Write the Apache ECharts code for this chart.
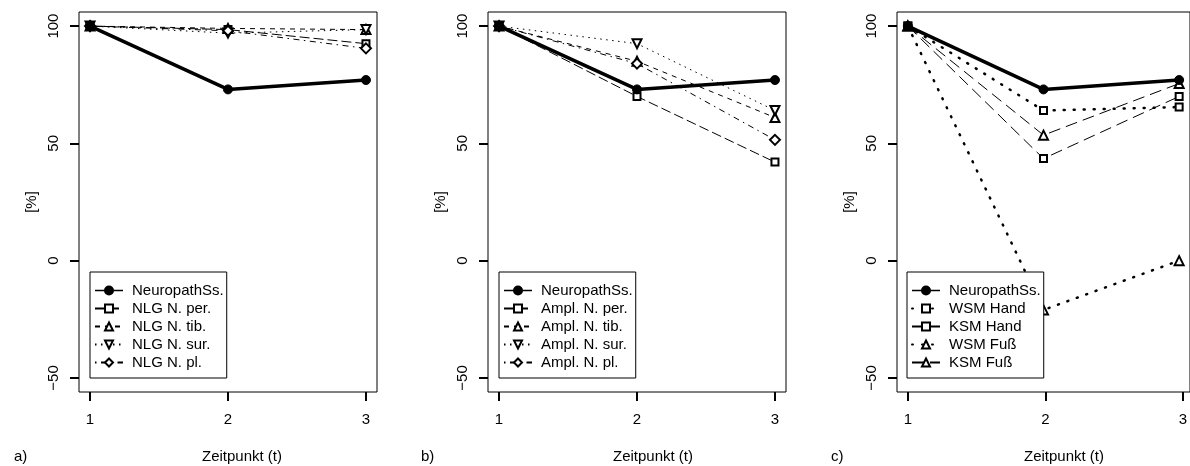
<!DOCTYPE html>
<html>
<head>
<meta charset="utf-8">
<script src="https://cdn.jsdelivr.net/npm/echarts@6/dist/echarts.min.js"></script>
<style>
html,body{margin:0;padding:0;background:#fff;}
#chart{width:1190px;height:466px;}
</style>
</head>
<body>
<div id="chart"></div>
<script>
// ---- data ----
const timepoints = [1, 2, 3];
const yTicks = [-50, 0, 50, 100];
const panelLetters = ['a)', 'b)', 'c)'];
const xTitle = 'Zeitpunkt (t)';
const yTitle = '[%]';

const neuropathSs = [100, 73, 77];

// panel a
const namesA = ['NeuropathSs.', 'NLG N. per.', 'NLG N. tib.', 'NLG N. sur.', 'NLG N. pl.'];
const nlgPer = [100, 98.5, 92.5];
const nlgTib = [100, 99, 98.5];
const nlgSur = [100, 97, 98.5];
const nlgPl  = [100, 98, 90.5];

// panel b
const namesB = ['NeuropathSs.', 'Ampl. N. per.', 'Ampl. N. tib.', 'Ampl. N. sur.', 'Ampl. N. pl.'];
const amplPer = [100, 70, 42];
const amplTib = [100, 85, 61];
const amplSur = [100, 92.5, 64];
const amplPl  = [100, 84, 51.5];

// panel c
const namesC = ['NeuropathSs.', 'WSM Hand', 'KSM Hand', 'WSM Fuß', 'KSM Fuß'];
const wsmHand = [100, 64, 65.5];
const ksmHand = [100, 43.5, 70];
const wsmFuss = [100, -21, 0];
const ksmFuss = [100, 53.5, 75.5];

// ---- styles ----
const FONT = '"Liberation Sans", Arial, Helvetica, sans-serif';
const BLACK = '#000';
const TICK = '#000';
const STY = {
  neuro:   {type: 'solid', width: 3.5, symbol: 'circle', size: 9, rot: 0},
  longdash:{type: [10, 4], width: 1, symbol: 'emptyRect', size: 7, rot: 0},
  dashed:  {type: [5, 5], width: 1, symbol: 'emptyTriangle', size: 9, rot: 0},
  dotted:  {type: [1.5, 4.5], width: 1, symbol: 'emptyTriangle', size: 9, rot: 180},
  dotdash: {type: [1.5, 4.5, 6, 4.5], width: 1, symbol: 'emptyDiamond', size: 10, rot: 0}
};

const X_MIN = 0.92, X_MAX = 3.08, Y_MIN = -56, Y_MAX = 106;
const panelLefts = [79, 488, 897];
const PW = 298, PT = 12, PH = 380;
const grids = panelLefts.map(l => ({left: l, top: PT, width: PW, height: PH}));

const pxX = PW / (X_MAX - X_MIN), pxY = PH / (Y_MAX - Y_MIN);
const offX = (1 - X_MIN) * pxX;
const offY = (Y_MAX - 100) * pxY;
const auxGrids = panelLefts.map(l => ({
  left: l + offX, top: PT + offY,
  width: 2 * pxX, height: 150 * pxY
}));
const offBottom = (-50 - Y_MIN) * pxY;

function mkSeries(name, values, gi, st, extra) {
  const s = {
    type: 'line', name: name, xAxisIndex: gi, yAxisIndex: gi,
    data: timepoints.map((t, i) => [t, values[i]]),
    symbol: st.symbol, symbolSize: st.size, symbolRotate: st.rot, showAllSymbol: true,
    color: BLACK,
    itemStyle: {color: BLACK, borderColor: BLACK, borderWidth: 1},
    lineStyle: {color: BLACK, width: st.width, type: st.type},
    emphasis: {disabled: true},
    z: st === STY.neuro ? 5 : 3,
    animation: false
  };
  if (extra) Object.assign(s.lineStyle, extra.lineStyle || {});
  return s;
}

const dotThick = {lineStyle: {cap: 'round'}};
const series = [
  mkSeries(namesA[0], neuropathSs, 0, STY.neuro),
  mkSeries(namesA[1], nlgPer, 0, STY.longdash),
  mkSeries(namesA[2], nlgTib, 0, STY.dashed),
  mkSeries(namesA[3], nlgSur, 0, STY.dotted),
  mkSeries(namesA[4], nlgPl, 0, STY.dotdash),
  mkSeries(namesB[0], neuropathSs, 1, STY.neuro),
  mkSeries(namesB[1], amplPer, 1, STY.longdash),
  mkSeries(namesB[2], amplTib, 1, STY.dashed),
  mkSeries(namesB[3], amplSur, 1, STY.dotted),
  mkSeries(namesB[4], amplPl, 1, STY.dotdash),
  mkSeries(namesC[0], neuropathSs, 2, STY.neuro),
  mkSeries(namesC[1], wsmHand, 2, {type: [1, 9], width: 2.5, symbol: 'emptyRect', size: 7, rot: 0}, dotThick),
  mkSeries(namesC[2], ksmHand, 2, {type: [12, 6], width: 1, symbol: 'emptyRect', size: 7, rot: 0}),
  mkSeries(namesC[3], wsmFuss, 2, {type: [1, 9], width: 2.5, symbol: 'emptyTriangle', size: 9, rot: 0}, dotThick),
  mkSeries(namesC[4], ksmFuss, 2, {type: [12, 6], width: 1, symbol: 'emptyTriangle', size: 9, rot: 0})
];

const xAxes = grids.map((g, i) => ({
  type: 'value', gridIndex: i, min: X_MIN, max: X_MAX,
  axisLine: {show: false, onZero: false}, axisTick: {show: false}, axisLabel: {show: false}, splitLine: {show: false}
}));
const yAxes = grids.map((g, i) => ({
  type: 'value', gridIndex: i, min: Y_MIN, max: Y_MAX,
  axisLine: {show: false, onZero: false}, axisTick: {show: false}, axisLabel: {show: false}, splitLine: {show: false}
}));
auxGrids.forEach((g, i) => {
  xAxes.push({
    type: 'value', gridIndex: 3 + i, min: timepoints[0], max: timepoints[timepoints.length - 1], interval: 1,
    position: 'bottom', offset: offBottom,
    axisLine: {show: false, onZero: false},
    splitLine: {show: false},
    axisTick: {show: true, length: 9, lineStyle: {color: TICK, width: 2}},
    axisLabel: {show: true, margin: 20, color: BLACK, fontFamily: FONT, fontSize: 15}
  });
  yAxes.push({
    type: 'value', gridIndex: 3 + i, min: yTicks[0], max: yTicks[yTicks.length - 1], interval: 50,
    position: 'left', offset: offX,
    name: yTitle, nameLocation: 'middle', nameGap: 40, nameRotate: 90,
    nameTextStyle: {color: BLACK, fontFamily: FONT, fontSize: 15},
    axisLine: {show: false, onZero: false},
    splitLine: {show: false},
    axisTick: {show: true, length: 9, lineStyle: {color: TICK, width: 2}},
    axisLabel: {show: true, rotate: 90, margin: 18, color: BLACK, fontFamily: FONT, fontSize: 15,
      formatter: v => (v < 0 ? '\u2212' + Math.abs(v) : String(v))}
  });
});

const legendLefts = [90, 499, 907];
const legendNames = [namesA, namesB, namesC];
const legends = legendLefts.map((l, i) => ({
  left: l, top: 272, orient: 'vertical',
  data: legendNames[i].map((n, k) => k === 0 ? {name: n, lineStyle: {width: 1.5}} : {name: n}),
  selectedMode: false, backgroundColor: '#fff',
  borderColor: BLACK, borderWidth: 1, borderRadius: 0,
  padding: [11, 3, 8, 4],
  itemWidth: 28, itemHeight: 10, itemGap: 3,
  textStyle: {color: BLACK, fontFamily: FONT, fontSize: 15, padding: [0, 0, 0, 4], lineHeight: 15},
  z: 10
}));

const textCenters = [241, 652, 1063];
const letterLefts = [14, 421, 831];
const graphics = [];
textCenters.forEach((c, i) => {
  graphics.push({type: 'text', left: c - 39, top: 449, style: {text: xTitle, fill: BLACK, font: '15px ' + FONT}});
  graphics.push({type: 'text', left: letterLefts[i], top: 449, style: {text: panelLetters[i], fill: BLACK, font: '15px ' + FONT}});
});

const chart = echarts.init(document.getElementById('chart'), null, {renderer: 'canvas'});
chart.setOption({
  animation: false,
  backgroundColor: '#fff',
  grid: grids.map(g => Object.assign({show: true, borderColor: BLACK, borderWidth: 1, backgroundColor: 'transparent'}, g))
    .concat(auxGrids.map(g => Object.assign({show: false}, g))),
  xAxis: xAxes, yAxis: yAxes,
  legend: legends, series: series, graphic: graphics
});
</script>
</body>
</html>
